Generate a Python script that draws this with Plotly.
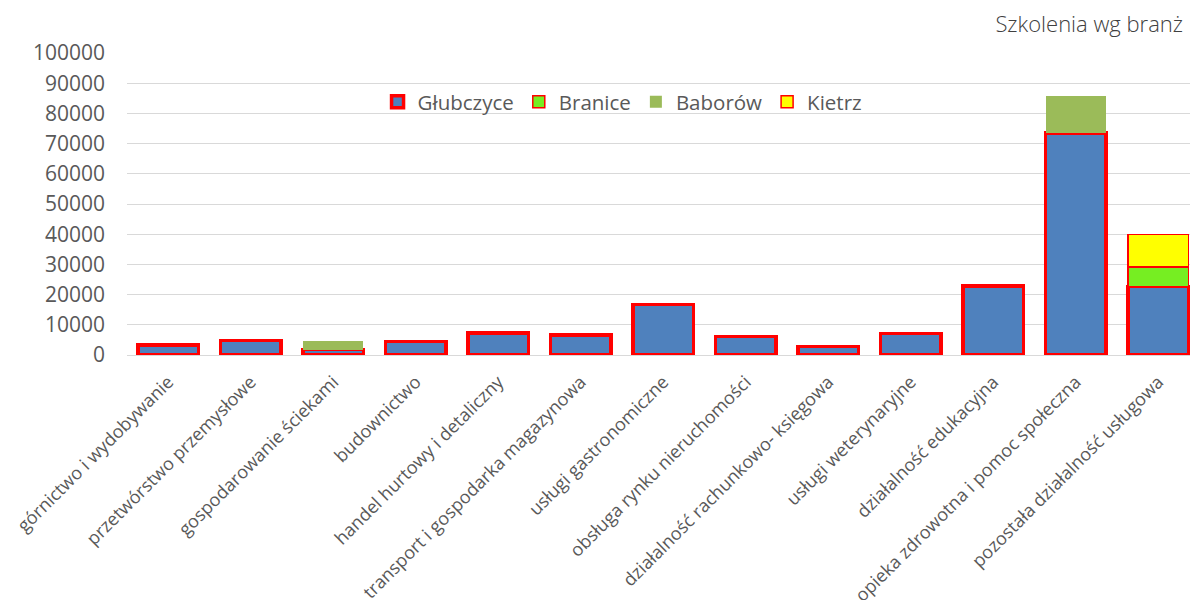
import plotly.graph_objects as go

categories = [
    "górnictwo i wydobywanie",
    "przetwórstwo przemysłowe",
    "gospodarowanie ściekami",
    "budownictwo",
    "handel hurtowy i detaliczny",
    "transport i gospodarka magazynowa",
    "usługi gastronomiczne",
    "obsługa rynku nieruchomości",
    "działalność rachunkowo- księgowa",
    "usługi weterynaryjne",
    "działalność edukacyjna",
    "opieka zdrowotna i pomoc społeczna",
    "pozostała działalność usługowa",
]

glubczyce = [3300, 4800, 1800, 4450, 7350, 6550, 16700, 6200, 2750, 7200, 22800, 73500, 22700]
branice = [None, None, None, None, None, None, None, None, None, None, None, None, 6500]
baborow = [None, None, 2900, None, None, None, None, None, None, None, None, 12300, None]
kietrz = [None, None, None, None, None, None, None, None, None, None, None, None, 10700]

y_ticks = [0, 10000, 20000, 30000, 40000, 50000, 60000, 70000, 80000, 90000, 100000]

FONT = "Open Sans"
GREY = "#595959"

fig = go.Figure()
fig.add_trace(go.Bar(name="Głubczyce", x=categories, y=glubczyce,
                     marker=dict(color="#4F81BD", line=dict(color="#FF0000", width=3.5))))
fig.add_trace(go.Bar(name="Branice", x=categories, y=branice,
                     marker=dict(color="#76EE22", line=dict(color="#FF0000", width=1.5))))
fig.add_trace(go.Bar(name="Baborów", x=categories, y=baborow,
                     marker=dict(color="#9BBB59", line=dict(width=0))))
fig.add_trace(go.Bar(name="Kietrz", x=categories, y=kietrz,
                     marker=dict(color="#FFFF00", line=dict(color="#FF0000", width=1.5))))

fig.update_layout(
    barmode="stack",
    bargap=0.27,
    width=1182,
    height=592,
    paper_bgcolor="white",
    plot_bgcolor="white",
    margin=dict(l=119, r=0, t=45, b=245, autoexpand=False),
    font=dict(family=FONT, color=GREY),
    title=dict(text="Szkolenia wg branż", x=0.9934, xanchor="right", xref="paper",
               y=0.972, yanchor="middle",
               font=dict(family=FONT, size=22, color="#404040", weight=300)),
    legend=dict(orientation="h", x=0.2357, xanchor="left", y=0.838, yanchor="middle",
                font=dict(size=20.5, color=GREY), bgcolor="rgba(0,0,0,0)",
                traceorder="normal", itemwidth=30),
    showlegend=True,
)
fig.update_yaxes(range=[0, 100000], tickvals=y_ticks, ticktext=[str(v) for v in y_ticks],
                 showgrid=True, gridcolor="#D9D9D9", gridwidth=1.3, zeroline=True,
                 zerolinecolor="#D9D9D9", zerolinewidth=1.3,
                 tickfont=dict(size=21, color=GREY), ticks="", automargin=False,
                 ticklabelstandoff=21)
fig.update_xaxes(tickangle=-45, tickfont=dict(size=18, color=GREY), showline=False,
                 range=[-0.5, 12.384],
                 ticks="", automargin=False, ticklabelstandoff=12)

fig.write_html("out.html")
